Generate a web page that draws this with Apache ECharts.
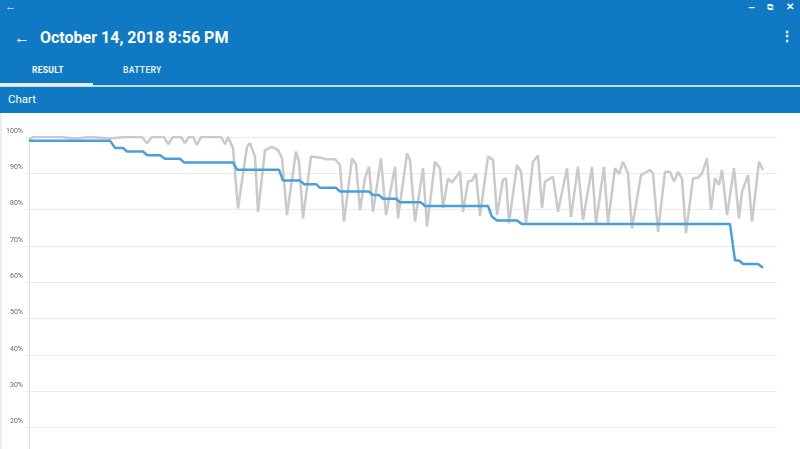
<!DOCTYPE html>
<html>
<head>
<meta charset="utf-8">
<script src="https://cdn.jsdelivr.net/npm/echarts@6/dist/echarts.min.js"></script>
<style>
  html, body { margin:0; padding:0; width:800px; height:449px; overflow:hidden; background:#fff; font-family: Roboto, "Noto Sans", sans-serif; }
  #top { position:absolute; left:0; top:0; width:800px; height:87px; background:#0f79c4; color:#fff; }
  .abs { position:absolute; white-space:nowrap; }
  #band { position:absolute; left:0; top:87px; width:800px; height:26px; background:#0f79c4; color:#fff; }
  #chart { position:absolute; left:0; top:113px; width:800px; height:420px; }
  #edge { position:absolute; left:0; top:113px; width:2px; height:336px; background:#ececec; }
</style>
</head>
<body>
<div id="top">
  <div class="abs" style="left:5px;top:0px;font-size:11px;">&#8592;</div>
  <div class="abs" style="left:748px;top:1px;font-size:11px;font-weight:bold;">&#8211;</div>
  <div class="abs" style="left:767px;top:2px;font-size:9px;">&#10697;</div>
  <div class="abs" style="left:786px;top:1px;font-size:10px;font-weight:bold;">&#10005;</div>
  <div class="abs" style="left:14px;top:28px;font-size:16px;">&#8592;</div>
  <div class="abs" style="left:40px;top:28px;font-size:16px;font-weight:bold;">October 14, 2018 8:56 PM</div>
  <div class="abs" style="left:780px;top:28px;font-size:14px;font-weight:bold;">&#8942;</div>
  <div class="abs" style="left:32px;top:65px;font-size:8.5px;font-weight:bold;letter-spacing:0.3px;">RESULT</div>
  <div class="abs" style="left:123px;top:65px;font-size:8.5px;font-weight:bold;letter-spacing:0.3px;opacity:0.85;">BATTERY</div>
  <div class="abs" style="left:0;top:85px;width:800px;height:1.5px;background:#c7dced;"></div>
  <div class="abs" style="left:0;top:83px;width:93px;height:3px;background:#e6eef5;"></div>
</div>
<div id="band">
  <div class="abs" style="left:8px;top:5px;font-size:11.5px;">Chart</div>
</div>
<div id="chart"></div>
<div id="edge"></div>
<script>
// elapsed minutes and battery level (%) — blue series
const levelTimes = [0,81,86,94,98,114,118,131,136,151,155,204,208,250,254,271,275,287,291,307,311,340,344,350,354,367,371,392,396,459,463,468,488,493,701,706,710,714,729,734];
const levelValues = [99,99,97,97,96,96,95,95,94,94,93,93,91,91,88,88,87,87,86,86,85,85,84,84,83,83,82,82,81,81,78,77,77,76,76,66,66,65,65,64];
// result score (%) — grey series
const resultTimes = [0,4,31,46,61,81,96,113,118,123,135,139,144,152,156,160,164,168,172,192,196,199,204,209,218,221,226,229,236,243,249,253,258,267,270,274,282,293,296,306,311,315,323,327,331,336,340,344,352,357,366,369,378,381,386,394,398,406,411,414,419,423,431,434,439,443,447,451,459,464,468,474,477,480,488,492,497,504,509,513,516,524,529,538,542,549,554,563,567,575,579,586,590,594,599,603,612,621,624,629,636,641,645,649,653,657,664,669,673,678,682,686,690,693,698,705,710,713,719,723,730,734];
const resultValues = [99,100,100,99.6,100,99.6,100,100,98.3,100,100,98,100,100,98.3,100,100,97.8,100,100,98,100,97,80.3,97.3,98.3,94.6,79.3,96.4,97.3,96.4,94.2,78.5,96,93.2,77.6,94.6,94.2,93.9,93.9,92.3,76.7,94.1,92.5,79.9,88.7,91.8,79.4,94.1,78.5,91.8,77.6,95.5,93.7,76.7,91.4,75.3,93.2,91.4,80.4,88.6,87.5,90.4,79.3,87.7,88,90,78.3,94.6,93.7,78.5,88.2,88.7,76.2,92.3,90.4,76.3,93.2,94.9,80.4,87.7,89,79.4,91.4,78,91.8,77.1,91.8,76.2,91.8,76.2,91.4,89.8,93.2,90,74.8,89.5,90.9,90,73.9,90.4,90.4,87.7,90.4,88.5,73.5,88.6,88.8,90,94.1,79.9,88.6,86.8,90.9,78.5,91.4,77.6,84.9,89.5,76.7,93.2,90.9];

const pair = (ts, vs) => ts.map((t, i) => [t, vs[i]]);

const chart = echarts.init(document.getElementById('chart'), null, { renderer: 'canvas' });
chart.setOption({
  animation: false,
  grid: { left: 25, top: 24, width: 752, height: 363 },
  xAxis: { type: 'value', min: -4, max: 748, show: false },
  yAxis: {
    type: 'value', min: 0, max: 100, interval: 10,
    axisLine: { show: true, lineStyle: { color: '#dedede', width: 1 } },
    axisTick: { show: false },
    axisLabel: { formatter: '{value}%', fontSize: 7, color: '#666', margin: 2, verticalAlign: 'bottom', lineHeight: 12, fontFamily: 'Roboto' },
    splitLine: { lineStyle: { color: '#ececec', width: 1 } }
  },
  series: [
    { type: 'line', data: pair(resultTimes, resultValues), showSymbol: false, lineStyle: { color: '#cacaca', width: 2.5 }, z: 2 },
    { type: 'line', data: pair(levelTimes, levelValues), showSymbol: false, lineStyle: { color: '#4a9fdb', width: 2.5 }, z: 3 }
  ]
});
</script>
</body>
</html>
